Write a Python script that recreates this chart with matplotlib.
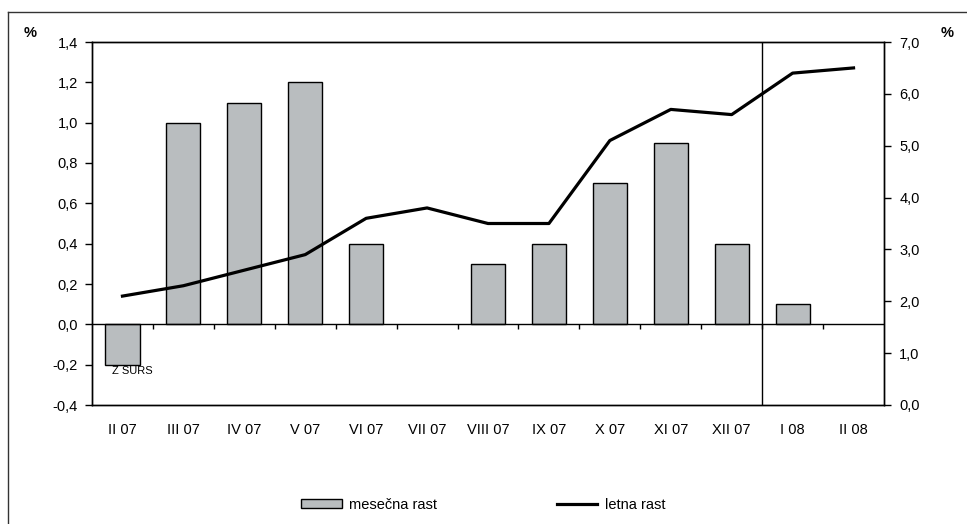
import matplotlib.pyplot as plt
import numpy as np
from matplotlib.lines import Line2D
from matplotlib.patches import Patch

plt.rcParams['font.family'] = ['Liberation Sans', 'DejaVu Sans']
plt.rcParams['font.size'] = 10.5

months = ['II 07', 'III 07', 'IV 07', 'V 07', 'VI 07', 'VII 07', 'VIII 07',
          'IX 07', 'X 07', 'XI 07', 'XII 07', 'I 08', 'II 08']
monthly = [-0.2, 1.0, 1.1, 1.2, 0.4, 0.0, 0.3, 0.4, 0.7, 0.9, 0.4, 0.1, 0.0]
yearly = [2.1, 2.3, 2.6, 2.9, 3.6, 3.8, 3.5, 3.5, 5.1, 5.7, 5.6, 6.4, 6.5]
left_ticks = [-0.4, -0.2, 0.0, 0.2, 0.4, 0.6, 0.8, 1.0, 1.2, 1.4]
right_ticks = [0, 1, 2, 3, 4, 5, 6, 7]

W, H = 967, 524
fig = plt.figure(figsize=(W / 100, H / 100), dpi=100)
ax = fig.add_axes([92 / W, 1 - 405 / H, (884 - 92) / W, (405 - 42) / H])
ax2 = ax.twinx()

x = np.arange(len(months))
vals = np.array(monthly)
nz = vals != 0  # empty months get no bar outline
ax.bar(x[nz], vals[nz], width=0.56, color='#b9bdbf', edgecolor='black', linewidth=1, zorder=2)
ax.axhline(0, color='black', linewidth=1, zorder=3)
# small ticks between categories on the zero line
ax.vlines(x[:-1] + 0.5, -0.025, 0, color='black', linewidth=1, zorder=3)
ax.axvline(10.5, color='black', linewidth=1, zorder=3)
ax.text(-0.17, -0.205, 'Z SURS', fontsize=8, va='top', ha='left')

ax.set_xlim(-0.5, len(months) - 0.5)
ax.set_ylim(-0.4, 1.4)
ax.set_yticks(left_ticks)
ax.set_yticklabels([f'{v:.1f}'.replace('.', ',') for v in left_ticks])
ax.set_xticks(x)
ax.set_xticklabels(months)
ax.tick_params(axis='x', length=0, pad=13)
ax.tick_params(axis='y', length=5, width=1, pad=5, direction='out')

ax2.plot(x, yearly, color='black', linewidth=2.3, zorder=4)
ax2.set_ylim(0, 7)
ax2.set_yticks(right_ticks)
ax2.set_yticklabels([f'{v:.1f}'.replace('.', ',') for v in right_ticks])
ax2.tick_params(axis='y', length=5, width=1, pad=6, direction='out')

for a in (ax, ax2):
    for s in a.spines.values():
        s.set_linewidth(1)
        s.set_color('black')

fig.text(30 / W, 1 - 33 / H, '%', ha='center', va='center', fontsize=10.5, fontweight='bold')
fig.text(947 / W, 1 - 33 / H, '%', ha='center', va='center', fontsize=10.5, fontweight='bold')

handles = [Patch(facecolor='#b9bdbf', edgecolor='black', linewidth=1),
           Line2D([0], [0], color='black', linewidth=2.3)]
fig.legend(handles, ['mesečna rast', 'letna rast'], loc='center', ncol=2,
           bbox_to_anchor=(483 / W, 1 - 505 / H), frameon=False,
           handlelength=2.8, handleheight=0.6, handletextpad=0.5, columnspacing=8.2)

# outer frame
fig.add_artist(Line2D([8 / W, 8 / W], [0, 1 - 12 / H], color='#333333', linewidth=1))
fig.add_artist(Line2D([8 / W, 1], [1 - 12 / H, 1 - 12 / H], color='#333333', linewidth=1))

fig.savefig('out.png', dpi=100)
